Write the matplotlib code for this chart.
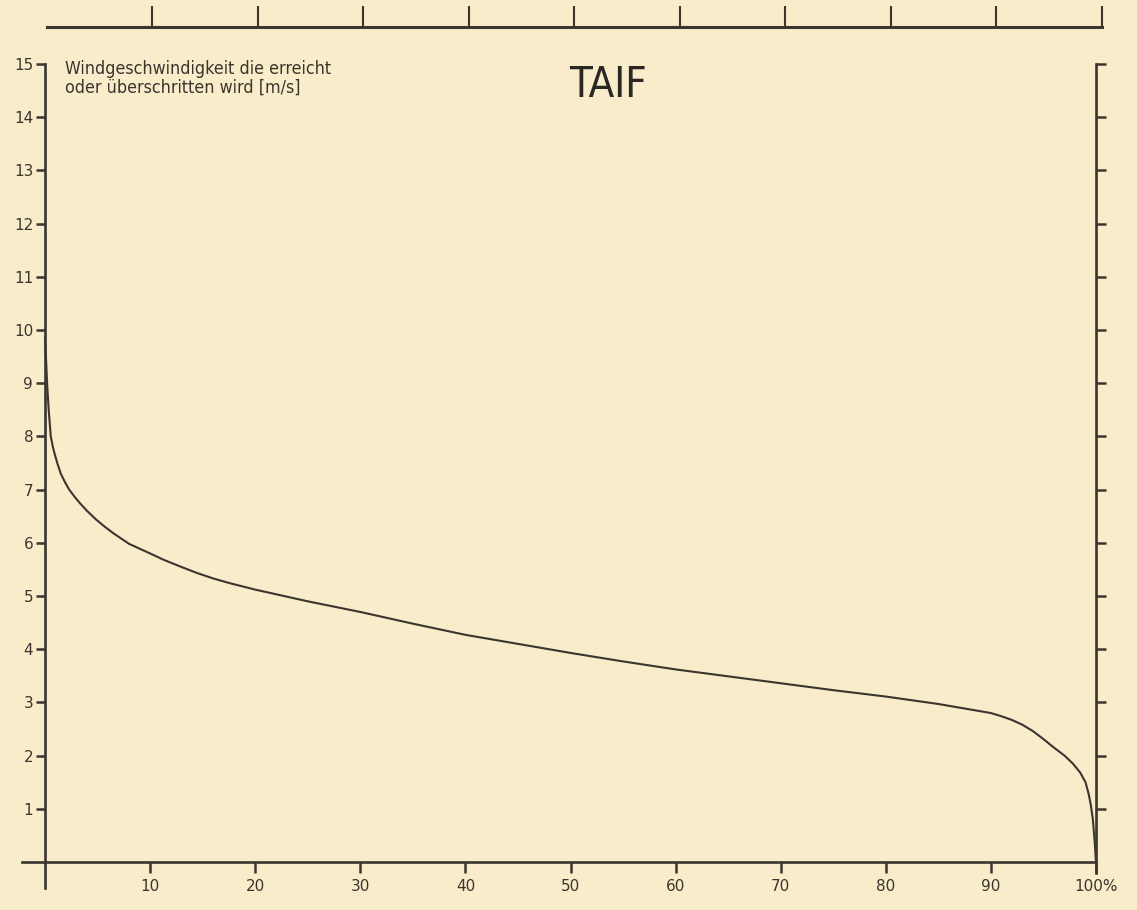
import numpy as np
import matplotlib
matplotlib.use("Agg")
import matplotlib.pyplot as plt

# exceedance curve: % of time vs. wind speed [m/s]
pct = [0, 0.1, 0.2, 0.35, 0.55, 0.75, 0.95, 1.2, 1.5, 1.9, 2.3, 2.8, 3.3, 4.0, 4.9, 5.7,
       6.5, 8.0, 10, 11.3, 12.8, 14.5, 16, 17.6, 20, 25, 30, 35, 40, 45, 50, 55,
       60, 65, 70, 75, 80, 85, 90, 91, 92, 93, 94, 95, 96, 97, 97.8, 98.5, 99,
       99.3, 99.5, 99.7, 99.85, 100]
speed = [9.85, 9.45, 9.0, 8.5, 8.0, 7.8, 7.65, 7.48, 7.3, 7.14, 7.0, 6.87, 6.75, 6.6, 6.43, 6.3,
         6.18, 5.98, 5.8, 5.68, 5.56, 5.43, 5.33, 5.24, 5.12, 4.9, 4.7, 4.48, 4.27, 4.1, 3.93, 3.77,
         3.62, 3.49, 3.36, 3.23, 3.11, 2.97, 2.8, 2.74, 2.67, 2.58, 2.46, 2.31, 2.15, 2.0, 1.85, 1.68, 1.5,
         1.28, 1.08, 0.8, 0.45, 0.0]

xticks = [10, 20, 30, 40, 50, 60, 70, 80, 90, 100]
xlabels = ["10", "20", "30", "40", "50", "60", "70", "80", "90", "100%"]
yticks = list(range(1, 16))

paper = "#f8ecca"
ink = "#3b352e"

W, H = 1137, 910
fig = plt.figure(figsize=(W / 100, H / 100), dpi=100, facecolor=paper)

# main axes: x 0..100 -> px 45..1096, y 0..15 -> px 862..64
ax = fig.add_axes([45 / W, (H - 862) / H, (1096 - 45) / W, (862 - 64) / H])
ax.set_facecolor("none")
ax.set_xlim(0, 100)
ax.set_ylim(0, 15)

ax.plot(pct, speed, color=ink, lw=1.5, clip_on=False, solid_joinstyle="round")

ax.spines["top"].set_visible(False)
for s in ("left", "bottom", "right"):
    ax.spines[s].set_color(ink)
    ax.spines[s].set_linewidth(1.9)
ax.spines["left"].set_bounds(-0.49, 15)
ax.spines["bottom"].set_bounds(-2.2, 100)
ax.spines["right"].set_bounds(-0.2, 15)

ax.set_xticks(xticks)
ax.set_xticklabels(xlabels)
ax.set_yticks(yticks)
ax.set_yticklabels([str(v) for v in yticks])
ax.tick_params(axis="x", direction="out", length=8, width=1.8, color=ink,
               labelcolor=ink, labelsize=11, pad=4)
ax.tick_params(axis="y", direction="out", length=6.5, width=1.8, color=ink,
               labelcolor=ink, labelsize=11, pad=2)
ax.get_xticklabels()[-1].set_x(100.6)

# right axis ticks without labels
axr = ax.twinx()
axr.set_ylim(0, 15)
axr.set_yticks(yticks)
axr.set_yticklabels([])
axr.tick_params(axis="y", direction="out", length=7, width=1.8, color=ink)
for s in axr.spines.values():
    s.set_visible(False)

ax.text(1.9, 15.07, "Windgeschwindigkeit die erreicht\noder überschritten wird [m/s]",
        ha="left", va="top", fontsize=12.8, color=ink, linespacing=1.0,
        fontstretch="condensed")
ax.text(53.6, 14.6, "TAIF", ha="center", va="center", fontsize=30, color="#2a2622",
        fontstretch="condensed")

# bottom axis of the previous chart on the page, cut off at the top
axt = fig.add_axes([47 / W, (H - 27) / H, (1101.5 - 47) / W, 0.001])
axt.set_facecolor("none")
axt.set_xlim(0, 100)
axt.set_xticks(xticks)
axt.set_xticklabels([])
axt.set_yticks([])
for s in ("top", "left", "right"):
    axt.spines[s].set_visible(False)
axt.spines["bottom"].set_color(ink)
axt.spines["bottom"].set_linewidth(2.2)
axt.tick_params(axis="x", direction="in", length=15, width=1.5, color=ink)

fig.savefig("out.png", dpi=100, facecolor=paper)
